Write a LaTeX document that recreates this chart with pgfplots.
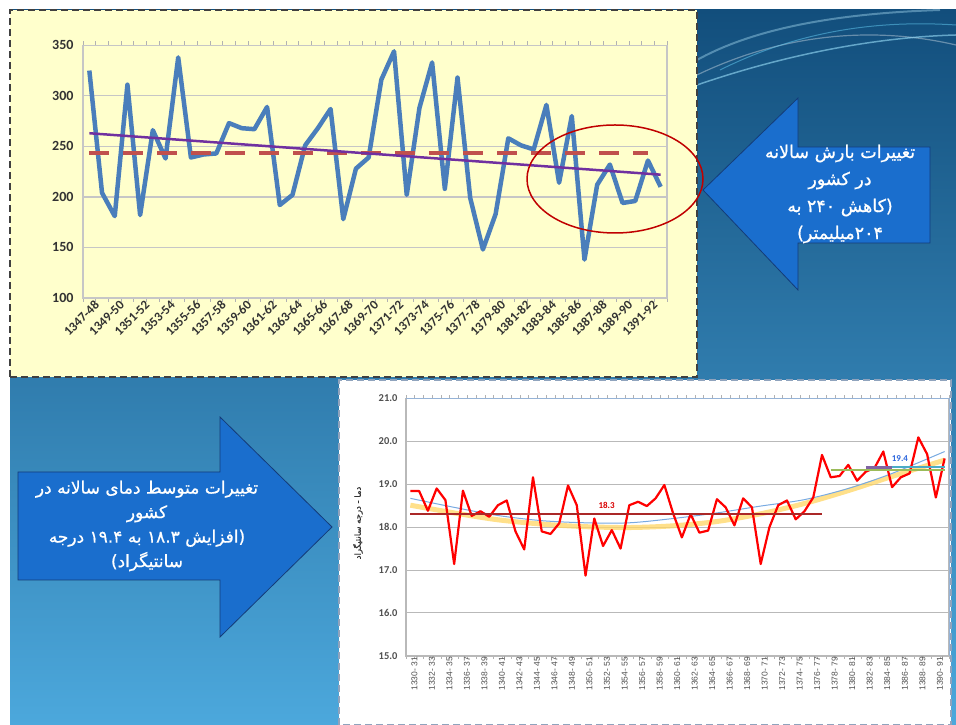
\documentclass[border=0pt]{standalone}
\usepackage{pgfplots}
\pgfplotsset{compat=1.18}
\usepackage{fontspec}
\setmainfont{Liberation Sans}
\newfontfamily\carlito{Carlito}
\newfontfamily\persian[Script=Arabic]{DejaVu Sans}
\newfontfamily\persianb[Script=Arabic,FakeBold=0.8]{DejaVu Sans}
\TeXXeTstate=1
\definecolor{bgtop}{RGB}{18,78,124}
\definecolor{bgbot}{RGB}{76,168,220}
\definecolor{panelyellow}{RGB}{255,255,204}
\definecolor{topblue}{RGB}{74,126,187}
\definecolor{meanred}{RGB}{192,80,77}
\definecolor{trendpurple}{RGB}{112,48,160}
\definecolor{ellred}{RGB}{192,0,0}
\definecolor{arrowfill}{RGB}{26,110,205}
\definecolor{arrowline}{RGB}{20,60,120}
\definecolor{ticktxt}{RGB}{50,50,50}
\definecolor{ticktxtb}{RGB}{80,80,80}
\definecolor{lightborder}{RGB}{149,179,215}
\definecolor{trendblue}{RGB}{120,170,225}
\definecolor{trendyellow}{RGB}{255,214,100}
\definecolor{meanred2}{RGB}{170,40,40}
\definecolor{mgreen}{RGB}{155,187,89}
\definecolor{mpurple}{RGB}{128,100,162}
\definecolor{mteal}{RGB}{75,172,198}
\begin{document}
\begin{tikzpicture}[x=1pt,y=1pt]
\fill[white] (0,0) rectangle (956,725);
\shade[top color=bgtop, bottom color=bgbot] (10,0) rectangle (956,715);
% swooshes top right
\draw[white, opacity=0.35, line width=1.2pt] (697,650) .. controls (780,690) and (870,700) .. (956,680);
\draw[cyan!40!white, opacity=0.6, line width=1.5pt] (697,640) .. controls (790,672) and (880,688) .. (956,690);
\draw[cyan!60!white, opacity=0.5, line width=1pt] (720,655) .. controls (800,695) and (880,705) .. (956,700);
\draw[cyan!30!white, opacity=0.4, line width=2pt] (697,665) .. controls (760,700) and (850,712) .. (940,715);
% top yellow panel
\fill[panelyellow] (10,348) rectangle (697,715);
\draw[black!75, line width=1.6pt, dash pattern=on 7pt off 4pt] (10,348) rectangle (697,715);
% bottom white panel
\fill[white] (339,0) rectangle (951,345);
\draw[lightborder!70!gray, line width=1.5pt, dash pattern=on 7pt off 4pt] (339,0) rectangle (951,345);

% ---------- top chart ----------
\begin{axis}[at={(83pt,427pt)}, anchor=south west, scale only axis,
  width=584pt, height=252.7pt,
  xmin=-0.5, xmax=45.5, ymin=100, ymax=350,
  ytick={100,150,...,350},
  xtick={0,2,...,44},
  xticklabels={1347-48,1349-50,1351-52,1353-54,1355-56,1357-58,1359-60,1361-62,1363-64,1365-66,1367-68,1369-70,1371-72,1373-74,1375-76,1377-78,1379-80,1381-82,1383-84,1385-86,1387-88,1389-90,1391-92},
  minor xtick={-0.5,0.5,...,45.5},
  major tick length=0pt, minor tick length=4pt, tick align=outside,
  ytick style={draw=none},
  minor tick style={gray!60, line width=0.8pt},
  ymajorgrids, grid style={gray!45, line width=1.2pt},
  axis line style={gray!45, line width=1.2pt},
  xticklabel style={rotate=45, anchor=north east, inner sep=1pt, yshift=-3pt, xshift=3pt, font=\carlito\bfseries\fontsize{13}{13}\selectfont, text=ticktxt},
  yticklabel style={font=\carlito\bfseries\fontsize{14}{14}\selectfont, text=ticktxt, xshift=-6pt},
  /pgf/number format/assume math mode=true,
  clip=false]
\addplot[color=topblue, line width=4.5pt, line join=round] coordinates {
(0,325) (1,204) (2,181) (3,311) (4,182) (5,266) (6,238) (7,338) (8,239) (9,242)
(10,243) (11,273) (12,268) (13,267) (14,289) (15,192) (16,202) (17,251) (18,268) (19,287)
(20,178) (21,228) (22,239) (23,316) (24,344) (25,202) (26,288) (27,333) (28,208) (29,318)
(30,199) (31,148) (32,183) (33,258) (34,251) (35,247) (36,291) (37,214) (38,280) (39,138)
(40,212) (41,232) (42,194) (43,196) (44,236) (45,210)};
\addplot[color=meanred, line width=4pt, dash pattern=on 20pt off 14pt] coordinates {(0,243.4) (44,243.4)};
\addplot[color=trendpurple, line width=2.5pt] coordinates {(0,263) (45,222)};
\end{axis}
\draw[ellred, line width=1.5pt] (615,546) ellipse [x radius=88, y radius=54];

% ---------- bottom chart ----------
\begin{axis}[at={(406pt,69.1pt)}, anchor=south west, scale only axis,
  width=543pt, height=257.6pt,
  xmin=-0.5, xmax=61.5, ymin=15, ymax=21,
  ytick={15,16,...,21},
  xtick={0,2,...,60},
  xticklabels={1330- 31,1332- 33,1334- 35,1336- 37,1338- 39,1340- 41,1342- 43,1344- 45,1346- 47,1348- 49,1350- 51,1352- 53,1354- 55,1356- 57,1358- 59,1360- 61,1362- 63,1364- 65,1366- 67,1368- 69,1370- 71,1372- 73,1374- 75,1376- 77,1378- 79,1380- 81,1382- 83,1384- 85,1386- 87,1388- 89,1390- 91},
  minor xtick={-0.5,0.5,...,61.5},
  major tick length=0pt, minor tick length=3pt, tick align=outside,
  ytick style={draw=none},
  minor tick style={gray!60, line width=0.6pt},
  ymajorgrids, grid style={gray!55, line width=1pt},
  axis line style={gray!55, line width=1.5pt},
  yticklabel style={/pgf/number format/.cd, fixed, fixed zerofill, precision=1, /tikz/.cd, font=\carlito\bfseries\fontsize{10.5}{11}\selectfont, text=ticktxtb, xshift=-5pt},
  xticklabel style={rotate=90, anchor=east, inner sep=1pt, yshift=-4pt, font=\fontsize{8.5}{9}\selectfont, text=ticktxtb},
  /pgf/number format/assume math mode=true,
  clip=false]
\addplot[color=trendyellow, opacity=0.75, line width=5pt, smooth] coordinates {
(0,18.51) (5,18.33) (10,18.17) (15,18.07) (20,18.01) (25,17.99) (30,18.03) (35,18.13) (40,18.31) (45,18.55) (50,18.85) (55,19.18) (61,19.56)};
\addplot[color=trendblue, line width=1pt, smooth] coordinates {
(0,18.67) (5,18.46) (10,18.27) (15,18.15) (20,18.1) (25,18.1) (30,18.2) (35,18.33) (40,18.49) (45,18.64) (50,18.9) (55,19.25) (61,19.76)};
\addplot[color=red, line width=2.2pt, line join=round] coordinates {
(0,18.84) (1,18.84) (2,18.38) (3,18.90) (4,18.63) (5,17.14) (6,18.85) (7,18.26) (8,18.37) (9,18.24)
(10,18.51) (11,18.62) (12,17.90) (13,17.48) (14,19.16) (15,17.90) (16,17.84) (17,18.09) (18,18.97) (19,18.51)
(20,16.87) (21,18.20) (22,17.56) (23,17.93) (24,17.50) (25,18.51) (26,18.59) (27,18.49) (28,18.67) (29,18.98)
(30,18.32) (31,17.76) (32,18.30) (33,17.87) (34,17.92) (35,18.65) (36,18.46) (37,18.04) (38,18.67) (39,18.46)
(40,17.14) (41,18.00) (42,18.51) (43,18.62) (44,18.18) (45,18.37) (46,18.69) (47,19.68) (48,19.16) (49,19.19)
(50,19.45) (51,19.08) (52,19.29) (53,19.38) (54,19.76) (55,18.93) (56,19.16) (57,19.25) (58,20.09) (59,19.70)
(60,18.69) (61,19.60)};
\addplot[color=meanred2, line width=1.5pt] coordinates {(0,18.3) (47,18.3)};
\addplot[color=mgreen, line width=2.5pt] coordinates {(48,19.33) (61,19.33)};
\addplot[color=mpurple, line width=2.5pt] coordinates {(52,19.39) (55,19.39)};
\addplot[color=mteal, line width=2.5pt] coordinates {(55,19.40) (61,19.40)};
\node[font=\carlito\bfseries\fontsize{9}{9}\selectfont, text=red!85!black] at (axis cs:22.4,18.5) {18.3};
\node[font=\carlito\bfseries\fontsize{9}{9}\selectfont, text=mteal!60!blue] at (axis cs:55.9,19.6) {19.4};
\draw[lightborder, line width=1pt] (rel axis cs:0,1) -- (rel axis cs:1,1) -- (rel axis cs:1,0);
\end{axis}
\node[rotate=90, font=\persianb\fontsize{8.5}{9}\selectfont, text=black!80] at (358,202) {\beginR دما - درجه سانتیگراد\endR};

% ---------- arrows ----------
\filldraw[fill=arrowfill, draw=arrowline, line width=0.8pt]
  (703,535) -- (798,627) -- (798,578) -- (930,578) -- (930,482) -- (798,482) -- (798,435) -- cycle;
\node[align=center, text=white, font=\persianb\fontsize{17.5}{27}\selectfont] at (840,531)
  {\beginR تغییرات بارش سالانه\endR\\ \beginR در کشور\endR\\ \beginR (کاهش ۲۴۰ به\endR\\ \beginR ۲۰۴\kern0ptمیلیمتر)\endR};
\filldraw[fill=arrowfill, draw=arrowline, line width=0.8pt]
  (332,198) -- (220,308) -- (220,253) -- (18,253) -- (18,145) -- (220,145) -- (220,88) -- cycle;
\node[align=center, text=white, font=\persianb\fontsize{17}{24.5}\selectfont] at (147,199)
  {\beginR تغییرات متوسط دمای سالانه در\endR\\ \beginR کشور\endR\\ \beginR (افزایش ۱۸.۳ به ۱۹.۴ درجه\endR\\ \beginR سانتیگراد)\endR};
\pgfresetboundingbox
\path[use as bounding box] (0,0) rectangle (956,725);
\end{tikzpicture}
\end{document}
